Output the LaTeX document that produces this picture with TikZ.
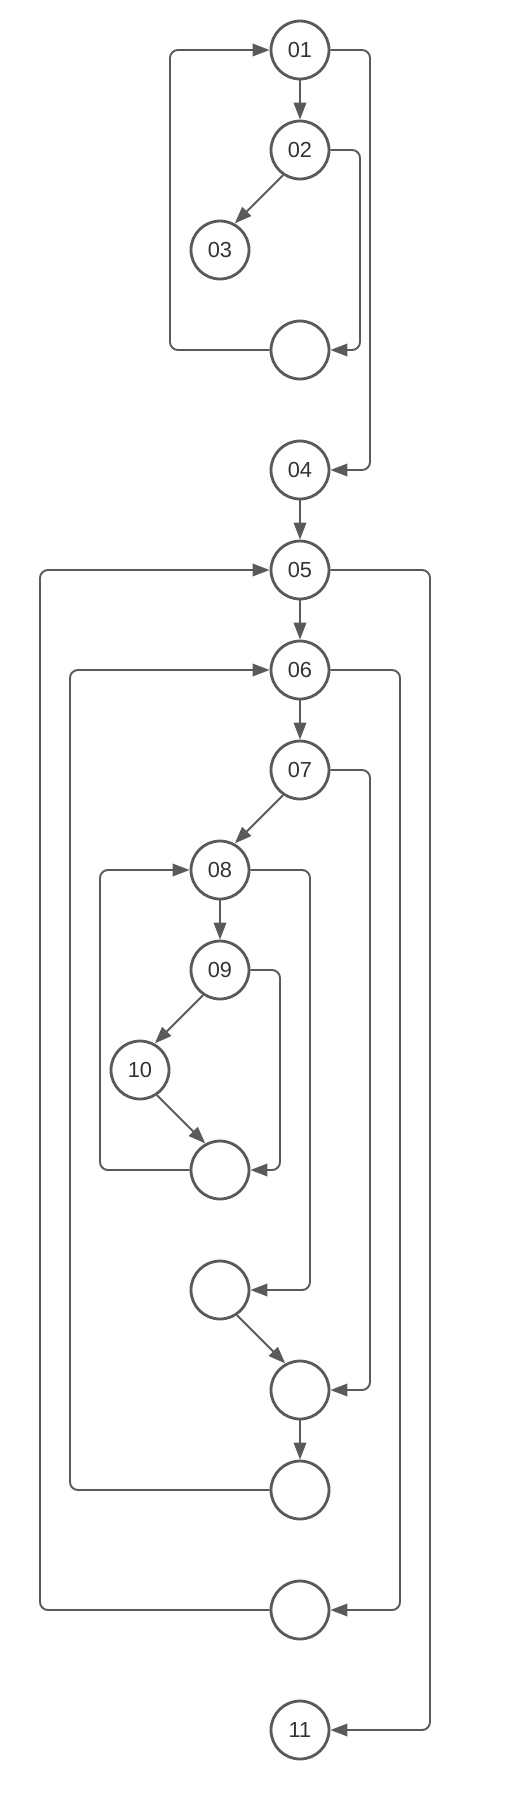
\documentclass[tikz,border=0pt]{standalone}
\usepackage{fontspec}
\setmainfont{Liberation Sans}
\usepackage{tikz}
\usetikzlibrary{arrows.meta,positioning}
\definecolor{flowgray}{HTML}{5A5A5A}
\definecolor{labelgray}{HTML}{333333}
\tikzset{
  stmt/.style={circle, draw=flowgray, line width=1.6pt, minimum size=1.16cm, inner sep=0pt, text=labelgray, font=\fontsize{12.4}{14}\selectfont},
  arrow/.style={-{Triangle[length=3.4mm, width=2.5mm]}, line width=1.1pt, draw=flowgray},
  loop/.style={arrow, rounded corners=1.6mm}
}

\begin{document}
\begin{tikzpicture}[x=0.02cm, y=-0.02cm]
  \useasboundingbox (0,0) rectangle (521,1800);

  % upper loop
  \node[stmt] (n01) at (300,50) {01};
  \node[stmt] (n02) at (300,150) {02};
  \node[stmt] (n03) at (220,250) {03};
  \node[stmt] (j01) at (300,350) {};
  \node[stmt] (n04) at (300,470) {04};

  % outer loops
  \node[stmt] (n05) at (300,570) {05};
  \node[stmt] (n06) at (300,670) {06};
  \node[stmt] (n07) at (300,770) {07};
  \node[stmt] (n08) at (220,870) {08};
  \node[stmt] (n09) at (220,970) {09};
  \node[stmt] (n10) at (140,1070) {10};
  \node[stmt] (j02) at (220,1170) {};
  \node[stmt] (j03) at (220,1290) {};
  \node[stmt] (j04) at (300,1390) {};
  \node[stmt] (j05) at (300,1490) {};
  \node[stmt] (j06) at (300,1610) {};
  \node[stmt] (n11) at (300,1730) {11};

  \draw[arrow] (n01) -- (n02);
  \draw[arrow] (n02.236) -- (n03.61);
  \draw[loop] (n02.east) -| (360,350) -- (j01.east);
  \draw[loop] (j01.west) -| (170,50) -- (n01.west);
  \draw[loop] (n01.east) -| (370,470) -- (n04.east);

  \draw[arrow] (n04) -- (n05);
  \draw[arrow] (n05) -- (n06);
  \draw[arrow] (n06) -- (n07);
  \draw[arrow] (n07.236) -- (n08.61);
  \draw[arrow] (n08) -- (n09);
  \draw[arrow] (n09.236) -- (n10.61);
  \draw[arrow] (n10.304) -- (j02.119);
  \draw[loop] (n09.east) -| (280,1170) -- (j02.east);
  \draw[loop] (j02.west) -| (100,870) -- (n08.west);
  \draw[loop] (n08.east) -| (310,1290) -- (j03.east);
  \draw[arrow] (j03.304) -- (j04.119);
  \draw[loop] (n07.east) -| (370,1390) -- (j04.east);
  \draw[arrow] (j04) -- (j05);
  \draw[loop] (j05.west) -| (70,670) -- (n06.west);
  \draw[loop] (n06.east) -| (400,1610) -- (j06.east);
  \draw[loop] (j06.west) -| (40,570) -- (n05.west);
  \draw[loop] (n05.east) -| (430,1730) -- (n11.east);
\end{tikzpicture}
\end{document}
